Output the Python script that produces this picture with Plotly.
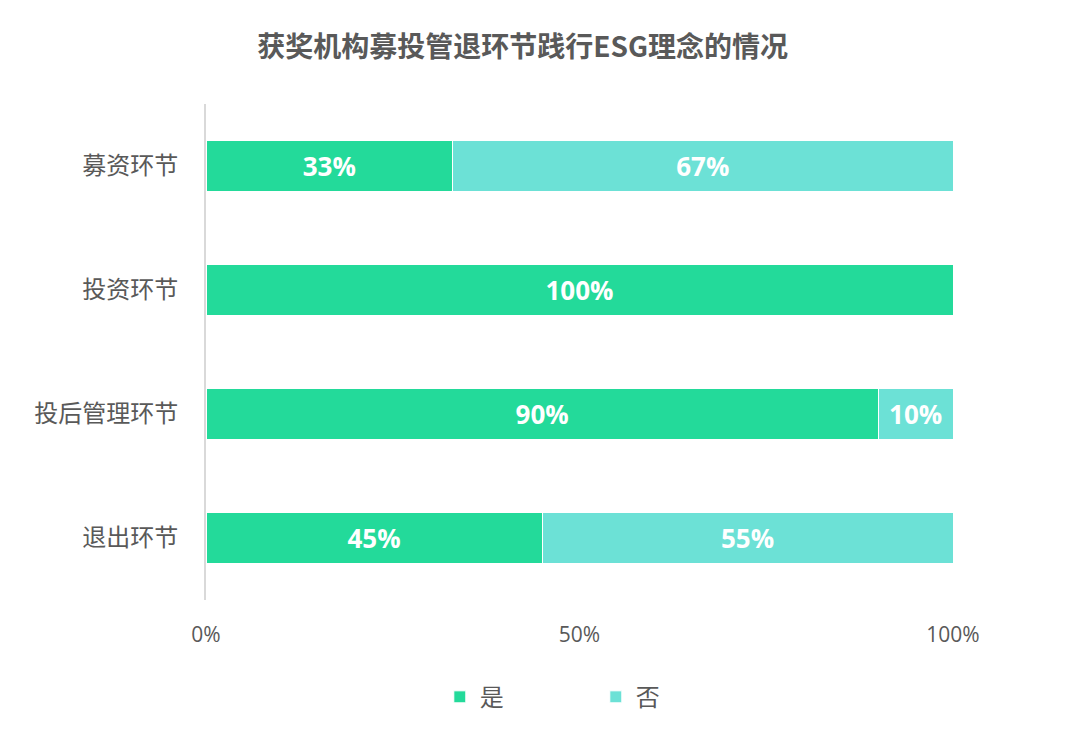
import plotly.graph_objects as go

# -----------------------------
# Data
# -----------------------------
stages = ["募资环节", "投资环节", "投后管理环节", "退出环节"]
yes_pct = [33, 100, 90, 45]
no_pct = [67, 0, 10, 55]
x_ticks = [0, 50, 100]
x_tick_labels = ["0%", "50%", "100%"]

YES_COLOR = "#23DA9A"
NO_COLOR = "#6CE1D6"
TEXT_COLOR = "#595959"
AXIS_COLOR = "#D9D9D9"
CJK_FONT = "Noto Sans CJK SC, sans-serif"
BAR_TEXT_FONT = dict(color="white", size=26, family="Open Sans, sans-serif", weight="bold")

fig = go.Figure()

fig.add_trace(go.Bar(
    y=stages,
    x=yes_pct,
    name="是",
    orientation="h",
    marker=dict(color=YES_COLOR, line=dict(color="white", width=1)),
    text=[f"{v}%" if v else "" for v in yes_pct],
    textposition="inside",
    insidetextanchor="middle",
    textfont=BAR_TEXT_FONT,
))

fig.add_trace(go.Bar(
    y=stages,
    x=no_pct,
    name="否",
    orientation="h",
    marker=dict(color=NO_COLOR, line=dict(color="white", width=1)),
    text=[f"{v}%" if v else "" for v in no_pct],
    textposition="inside",
    insidetextanchor="middle",
    textfont=BAR_TEXT_FONT,
))

fig.update_layout(
    width=1080,
    height=737,
    barmode="stack",
    bargap=0.59,
    plot_bgcolor="white",
    paper_bgcolor="white",
    font=dict(family=CJK_FONT, color=TEXT_COLOR, size=20),
    margin=dict(l=198, r=135, t=96, b=145),
    title=dict(
        text="<b>获奖机构募投管退环节践行ESG理念的情况</b>",
        x=0.4765,
        xanchor="center",
        y=0.947,
        yanchor="middle",
        font=dict(size=28, color=TEXT_COLOR, family=CJK_FONT),
    ),
    xaxis=dict(
        range=[0, 100],
        tickvals=x_ticks,
        ticktext=x_tick_labels,
        showgrid=False,
        zeroline=False,
        showline=False,
        ticks="outside",
        ticklen=16,
        tickcolor="rgba(0,0,0,0)",
        tickfont=dict(size=21, color=TEXT_COLOR, family="Open Sans, sans-serif"),
        fixedrange=True,
    ),
    yaxis=dict(
        autorange="reversed",
        showgrid=False,
        showline=True,
        linecolor=AXIS_COLOR,
        linewidth=2,
        ticks="outside",
        ticklen=21,
        tickcolor="rgba(0,0,0,0)",
        tickfont=dict(size=24, color=TEXT_COLOR, family=CJK_FONT),
    ),
    legend=dict(
        orientation="h",
        x=0.313,
        xanchor="left",
        y=-0.196,
        yanchor="middle",
        font=dict(size=24, color=TEXT_COLOR, family=CJK_FONT),
        itemwidth=30,
        entrywidth=111,
        traceorder="normal",
    ),
    showlegend=True,
)

fig.write_html("out.html")
